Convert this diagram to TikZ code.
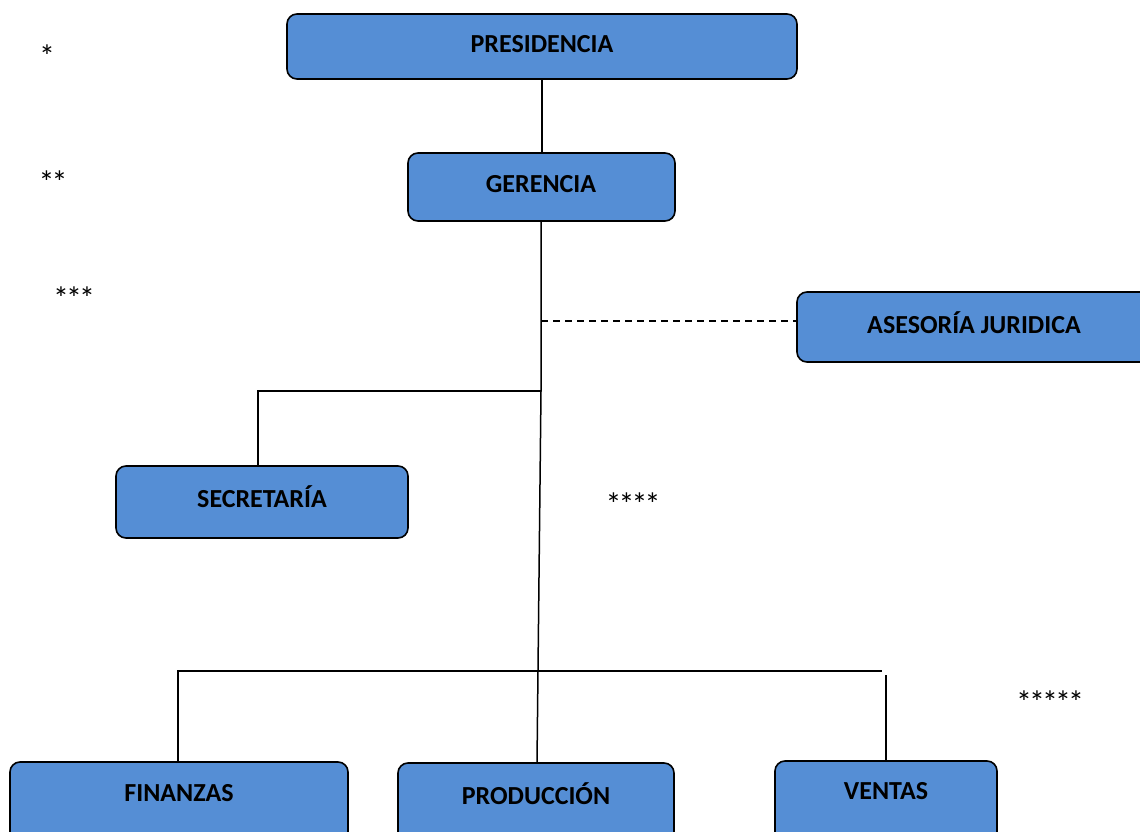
\documentclass[tikz,border=0pt]{standalone}
\usepackage{fontspec}
\setmainfont{Carlito}
\definecolor{boxblue}{RGB}{85,142,213}
\newcommand{\myst}{\makebox[13pt]{\scalebox{1.6}{*}}}
\begin{document}
\begin{tikzpicture}[x=1pt,y=-1pt,
  orgbox/.style={draw=black,line width=1.6pt,fill=boxblue,rounded corners=10pt},
  lbl/.style={font=\fontsize{26}{30}\selectfont\bfseries},
  star/.style={font=\fontsize{20}{24}\selectfont,inner sep=0pt},
  conn/.style={line width=1.5pt}]
\useasboundingbox (0,0) rectangle (1140,832);
% boxes
\draw[orgbox] (287,14) rectangle (797,79);
\node[lbl] (pres) at (542,44) {PRESIDENCIA};
\coordinate (presS) at (542,79);
\draw[orgbox] (408,153) rectangle (675,221);
\node[lbl] (ger) at (541,184) {GERENCIA};
\coordinate (gerN) at (542,153);
\coordinate (gerS) at (541,221);
\draw[orgbox] (797,292) rectangle (1152,362);
\node[lbl] (ase) at (974,323) {ASESORÍA JURIDICA};
\coordinate (aseW) at (797,321);
\draw[orgbox] (116,466) rectangle (408,538);
\node[lbl] (sec) at (262,497) {SECRETARÍA};
\coordinate (secN) at (258,466);
\draw[orgbox] (10,762) rectangle (348,845);
\node[lbl] (fin) at (179,793) {FINANZAS};
\coordinate (finN) at (178,762);
\draw[orgbox] (398,763) rectangle (674,845);
\node[lbl] (pro) at (536,794) {PRODUCCIÓN};
\coordinate (proN) at (537,763);
\draw[orgbox] (775,761) rectangle (997,845);
\node[lbl] (ven) at (886,791) {VENTAS};
\coordinate (venN) at (886,761);
% connectors
\coordinate (j1) at (541,321);
\coordinate (j2) at (541,391);
\draw[conn] (presS) -- (gerN);
\draw[conn] (gerS) -- (j2) -- (proN);
\draw[conn,dashed,dash pattern=on 7pt off 5pt] (j1) -- (aseW);
\draw[conn] (j2) -- (258,391) -- (secN);
\draw[conn] (finN) -- (178,671) -- (882,671);
\draw[conn] (886,675) -- (venN);
% stars
\node[star] (s1) at (47,56) {\myst};
\node[star] (s2) at (53,182) {\myst\myst};
\node[star] (s3) at (74,298) {\myst\myst\myst};
\node[star] (s4) at (633,504) {\myst\myst\myst\myst};
\node[star] (s5) at (1050,702) {\myst\myst\myst\myst\myst};
\end{tikzpicture}
\end{document}
